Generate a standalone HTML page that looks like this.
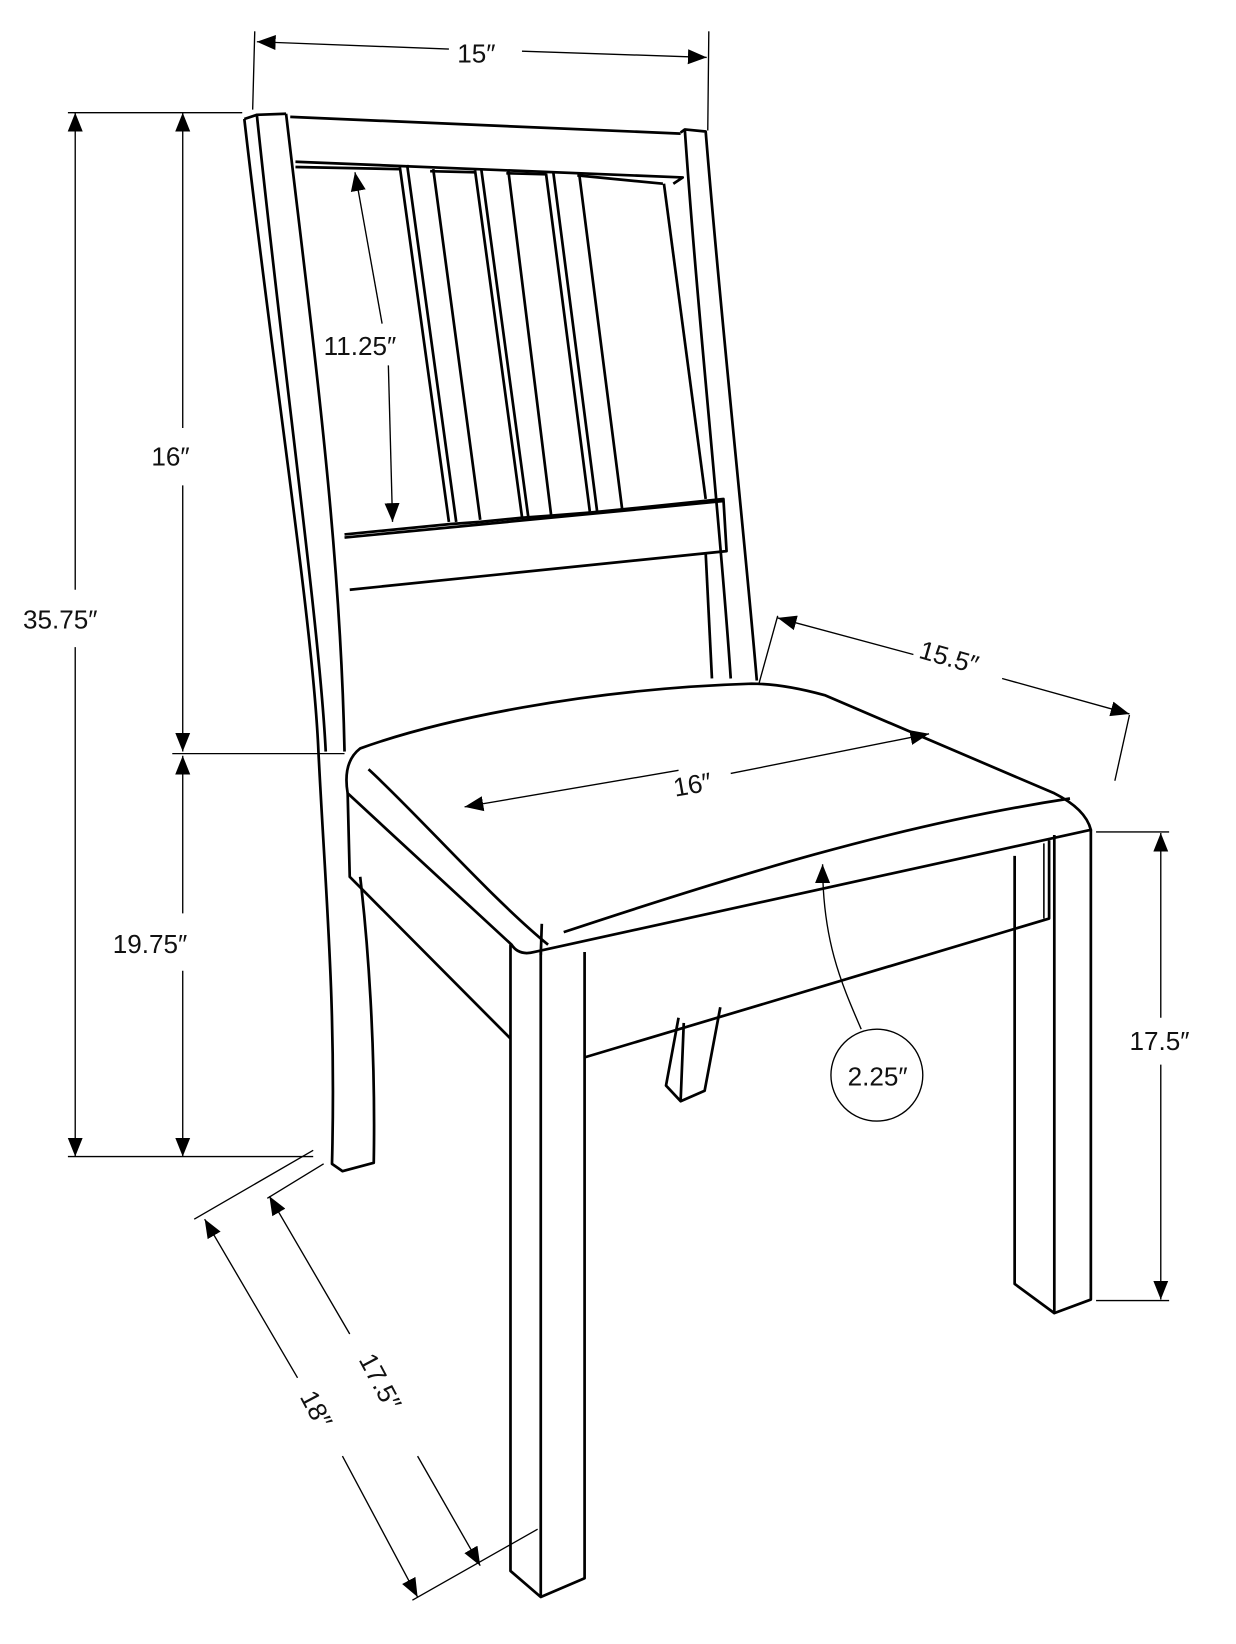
<!DOCTYPE html>
<html><head><style>
html,body{margin:0;padding:0;background:#fff;}
svg{display:block;}
text{font-family:"Liberation Sans","DejaVu Sans",sans-serif;font-size:25px;fill:#111;}
</style></head><body>
<svg width="1236" height="1644" viewBox="0 0 1184 1575" xmlns="http://www.w3.org/2000/svg">
<defs>
<marker id="a" viewBox="0 0 10 10" refX="10" refY="5" markerWidth="18" markerHeight="18" markerUnits="userSpaceOnUse" orient="auto-start-reverse"><path d="M0,1 L10,5 L0,9 z" fill="#000"/></marker>
</defs>
<g fill="none" stroke="#000" stroke-width="2.6" stroke-linejoin="round">
<path d="M234,114 L246,110 L274,109"/>
<path d="M234,114 C262,360 300,600 305,720 C312,860 322,960 318,1115 L328,1122 L358,1114 C360,1000 352,900 345,840"/>
<path d="M246,110 C272,360 306,600 312,720"/>
<path d="M274,109 C300,330 326,520 330,720"/>
<path d="M652,127 L656,124 L676,126 C690,300 712,500 725,652"/>
<path d="M656,124 C668,300 690,500 700,650"/>
<path d="M278,112 L652,128"/>
<path d="M283,155 L654,170 L645,176"/>
<path d="M283,160 L383,162"/>
<path d="M412,164 L455,165 M485,166 L523,167 M553,168 L635,176"/>
<path d="M383,160 L430,500 M390,158 L437,500 M415,162 L460,498"/>
<path d="M455,163 L500,495 M461,162 L506,495 M487,164 L528,494"/>
<path d="M523,166 L565,490 M530,165 L572,490 M555,168 L596,488"/>
<path d="M636,176 L676,478"/>
<path d="M330,512 L432,502 L460,500 L500,496 L528,494 L566,491 L596,488 L693,478 L696,528 L335,565"/>
<path d="M330,515 L693,480"/>
<path d="M676,530 L682,650"/>
<path d="M345,717 C420,690 560,660 720,655 Q750,655 790,666 L1010,760 Q1040,775 1045,795 L512,912 Q497,916 490,905 L333,760 Q328,730 345,717 Z"/>
<path d="M353,737 C400,780 470,860 525,905"/>
<path d="M540,893 C700,840 860,790 1025,765"/>
<path d="M519,885 L518,915"/>
<path d="M333,760 L335,840 L489,995"/>
<path d="M560,1013 L1005,880 L1005,805"/>
<path d="M1010,800 L1010,1258"/>
<path d="M489,905 L489,1505 L518,1530 L560,1512 L560,912"/>
<path d="M518,912 L518,1530"/>
<path d="M972,820 L972,1230 L1010,1258 L1045,1245 L1045,795"/>
<path d="M1000,808 L1000,880" stroke-width="1.5"/>
<path d="M650,975 L638,1040 L652,1055 L675,1045 L690,965 M655,980 L652,1055"/>
</g>
<g fill="none" stroke="#000" stroke-width="1.3">
<path d="M244,30 L242,105 M679,30 L678,125"/>
<path d="M246,40 L430,47" marker-start="url(#a)"/>
<path d="M500,49 L677,55" marker-end="url(#a)"/>
<path d="M65,108 L232,108"/>
<path d="M65,1108 L300,1108"/>
<path d="M72,108 L72,565" marker-start="url(#a)"/>
<path d="M72,620 L72,1108" marker-end="url(#a)"/>
<path d="M165,722 L330,722"/>
<path d="M175,108 L175,410" marker-start="url(#a)"/>
<path d="M175,465 L175,720" marker-end="url(#a)"/>
<path d="M175,724 L175,875" marker-start="url(#a)"/>
<path d="M175,930 L175,1108" marker-end="url(#a)"/>
<path d="M340,165 L366,310" marker-start="url(#a)"/>
<path d="M372,350 L376,500" marker-end="url(#a)"/>
<path d="M745,590 L727,655 M1082,685 L1068,748"/>
<path d="M745,592 L875,627" marker-start="url(#a)"/>
<path d="M960,650 L1082,684" marker-end="url(#a)"/>
<path d="M445,773 L650,738" marker-start="url(#a)"/>
<path d="M700,741 L890,703" marker-end="url(#a)"/>
<path d="M1050,797 L1120,797 M1050,1246 L1120,1246"/>
<path d="M1112,798 L1112,975" marker-start="url(#a)"/>
<path d="M1112,1020 L1112,1245" marker-end="url(#a)"/>
<circle cx="840" cy="1030" r="44"/>
<path d="M825,986 C805,940 788,900 788,828" marker-end="url(#a)"/>
<path d="M256,1148 L310,1115 M186,1168 L300,1102 M395,1533 L515,1465"/>
<path d="M258,1146 L335,1278" marker-start="url(#a)"/>
<path d="M400,1395 L460,1500" marker-end="url(#a)"/>
<path d="M196,1168 L285,1320" marker-start="url(#a)"/>
<path d="M328,1395 L400,1530" marker-end="url(#a)"/>
</g>
<text x="438" y="60">15″</text>
<text x="22" y="602">35.75″</text>
<text x="145" y="446">16″</text>
<text x="108" y="913">19.75″</text>
<text x="310" y="340">11.25″</text>
<text x="880" y="640" transform="rotate(16 915 632)">15.5″</text>
<text x="645" y="760" transform="rotate(-10 665 752)">16″</text>
<text x="812" y="1040">2.25″</text>
<text x="1082" y="1006">17.5″</text>
<text x="335" y="1330" transform="rotate(62 362 1323)">17.5″</text>
<text x="285" y="1355" transform="rotate(62 300 1348)">18″</text>
</svg>
</body></html>
